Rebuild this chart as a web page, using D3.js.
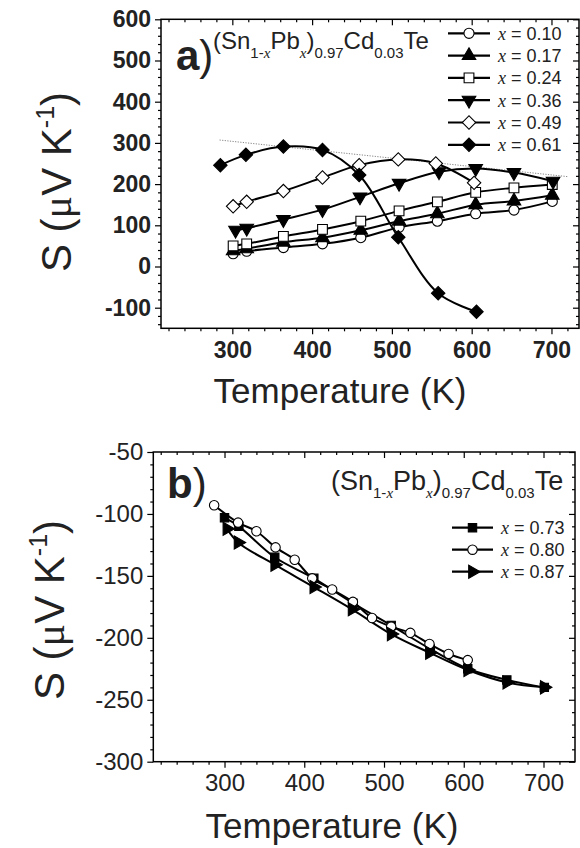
<!DOCTYPE html>
<html>
<head>
<meta charset="utf-8">
<script src="https://cdn.jsdelivr.net/npm/d3@7"></script>
<style>
  body { margin: 0; background: #fff; }
  svg { display: block; }
</style>
</head>
<body>
<svg id="fig" width="580" height="848"></svg>
<script>
// ---- Tick values ----
const tempTicks = [300, 400, 500, 600, 700];
const seebeckTicksA = [-100, 0, 100, 200, 300, 400, 500, 600];
const seebeckTicksB = [-300, -250, -200, -150, -100, -50];

// ---- Panel a: (Sn1-xPbx)0.97Cd0.03Te, p-type range ----
const labelsA = ["0.10", "0.17", "0.24", "0.36", "0.49", "0.61"];
const tA010 = [301, 318, 364, 413, 461, 509, 557, 605, 653, 701];
const sA010 = [31, 37, 46, 55, 70, 95, 110, 128, 137, 158];
const tA017 = [301, 318, 364, 413, 461, 509, 557, 605, 653, 701];
const sA017 = [38, 43, 59, 70, 88, 110, 128, 150, 159, 173];
const tA024 = [301, 318, 364, 413, 461, 509, 557, 605, 653, 701];
const sA024 = [50, 55, 73, 90, 110, 135, 157, 180, 191, 199];
const tA036 = [304, 318, 364, 413, 460, 509, 559, 605, 653, 702];
const sA036 = [88, 93, 114, 138, 169, 202, 230, 238, 228, 207];
const tA049 = [301, 318, 364, 413, 459, 508, 555, 603];
const sA049 = [146, 157, 183, 216, 246, 260, 250, 203];
const tA061 = [285, 317, 364, 413, 459, 508, 558, 606];
const sA061 = [246, 271, 291, 283, 222, 71, -65, -110];
// dotted guide joining the maxima
const guideT = [284, 721];
const guideS = [307, 218];

// ---- Panel b: n-type range ----
const labelsB = ["0.73", "0.80", "0.87"];
const tB073 = [300, 318, 363, 412, 461, 509, 558, 605, 654, 701];
const sB073 = [-103, -110, -135, -152, -172, -190, -209, -225, -234, -240];
const tB080 = [287, 317, 340, 364, 388, 410, 435, 461, 485, 509, 533, 557, 581, 605];
const sB080 = [-93, -107, -114, -127, -137, -152, -161, -171, -184, -191, -196, -205, -213, -218];
const tB087 = [303, 317, 363, 412, 460, 509, 557, 605, 654, 701];
const sB087 = [-112, -123, -141, -159, -177, -197, -212, -226, -236, -240];

const SANS = "'Liberation Sans', Arial, sans-serif";
const SERIF = "'Liberation Serif', 'Times New Roman', serif";

const svg = d3.select("#fig");

const zip = (t, s) => t.map((v, i) => ({ t: v, s: s[i] }));
const plain = d => String(d); // hyphen-minus, as on the printed axes

// marker definitions: shape, fill, rotation, area
const MK = {
  circle:   { type: d3.symbolCircle,   fill: "#fff", rot: 0,   size: 80 },
  square:   { type: d3.symbolSquare,   fill: "#fff", rot: 0,   size: 95 },
  triUp:    { type: d3.symbolTriangle, fill: "#000", rot: 0,   size: 80 },
  triDown:  { type: d3.symbolTriangle, fill: "#000", rot: 180, size: 80 },
  diaOpen:  { type: d3.symbolSquare,   fill: "#fff", rot: 45,  size: 90 },
  diaFill:  { type: d3.symbolSquare,   fill: "#000", rot: 45,  size: 90 }
};
const MKB = {
  square:   { type: d3.symbolSquare,   fill: "#000", rot: 0,  size: 70 },
  circle:   { type: d3.symbolCircle,   fill: "#fff", rot: 0,  size: 70 },
  triRight: { type: d3.symbolTriangle, fill: "#000", rot: 90, size: 75 }
};

function drawMarker(g, m, x, y) {
  g.append("path")
    .attr("d", d3.symbol().type(m.type).size(m.size)())
    .attr("transform", `translate(${x},${y}) rotate(${m.rot})`)
    .attr("fill", m.fill)
    .attr("stroke", "#000")
    .attr("stroke-width", 1.1);
}

function frame(g, x, y, opts) {
  const [x0, x1] = x.range();
  const [y0, y1] = y.range(); // y0 bottom, y1 top
  const majX = tempTicks;
  const minX = d3.range(220, 740, 20).filter(v => v % 100 !== 0 && v >= x.domain()[0] && v <= x.domain()[1]);
  const majY = opts.yTicks;
  const minY = opts.yMinor;

  const style = sel => {
    sel.select(".domain").remove();
    sel.selectAll("line").attr("stroke", "#000").attr("stroke-width", 1.2);
    sel.selectAll("text")
      .attr("font-family", SANS)
      .attr("font-size", opts.tickFont)
      .attr("font-weight", opts.bold ? "bold" : "normal")
      .attr("fill", "#222");
  };

  // bottom (outward) and top (inward)
  g.append("g").attr("transform", `translate(0,${y0})`)
    .call(d3.axisBottom(x).tickValues(majX).tickSize(6).tickPadding(opts.xPad).tickFormat(plain))
    .call(style);
  g.append("g").attr("transform", `translate(0,${y0})`)
    .call(d3.axisBottom(x).tickValues(minX).tickSize(3).tickFormat(""))
    .call(style);
  g.append("g").attr("transform", `translate(0,${y1})`)
    .call(d3.axisBottom(x).tickValues(majX).tickSize(6).tickFormat(""))
    .call(style);
  g.append("g").attr("transform", `translate(0,${y1})`)
    .call(d3.axisBottom(x).tickValues(minX).tickSize(3).tickFormat(""))
    .call(style);
  // left (outward) and right (inward)
  g.append("g").attr("transform", `translate(${x0},0)`)
    .call(d3.axisLeft(y).tickValues(majY).tickSize(6).tickPadding(opts.yPad).tickFormat(plain))
    .call(style);
  g.append("g").attr("transform", `translate(${x0},0)`)
    .call(d3.axisLeft(y).tickValues(minY).tickSize(3).tickFormat(""))
    .call(style);
  g.append("g").attr("transform", `translate(${x1},0)`)
    .call(d3.axisLeft(y).tickValues(majY).tickSize(6).tickFormat(""))
    .call(style);
  g.append("g").attr("transform", `translate(${x1},0)`)
    .call(d3.axisLeft(y).tickValues(minY).tickSize(3).tickFormat(""))
    .call(style);

  g.append("rect")
    .attr("x", x0).attr("y", y1)
    .attr("width", x1 - x0).attr("height", y0 - y1)
    .attr("fill", "none").attr("stroke", "#000").attr("stroke-width", 1.5);
}

function yTitle(g, cx, cy) {
  const t = g.append("text")
    .attr("transform", `translate(${cx},${cy}) rotate(-90)`)
    .attr("text-anchor", "middle")
    .attr("font-family", SANS)
    .attr("font-size", 42)
    .attr("fill", "#222");
  t.append("tspan").text("S (");
  t.append("tspan").attr("font-family", SERIF).text("μ");
  t.append("tspan").text("V K");
  t.append("tspan").attr("font-size", 25).attr("dy", -17).text("-1");
  t.append("tspan").attr("dy", 17).text(")");
}

function xTitle(g, cx, baseline) {
  g.append("text")
    .attr("x", cx).attr("y", baseline)
    .attr("text-anchor", "middle")
    .attr("font-family", SANS)
    .attr("font-size", 35)
    .attr("fill", "#222")
    .text("Temperature (K)");
}

function formula(g, x, y, size, sub, drop) {
  const t = g.append("text")
    .attr("x", x).attr("y", y)
    .attr("font-family", SANS)
    .attr("font-size", size)
    .attr("fill", "#222");
  const S = (txt, opt = {}) => {
    const s = t.append("tspan").text(txt);
    if (opt.sub) s.attr("font-size", sub);
    if (opt.dy) s.attr("dy", opt.dy);
    if (opt.it) s.attr("font-family", SERIF).attr("font-style", "italic");
    return s;
  };
  S("(Sn");
  S("1-", { sub: true, dy: drop });
  S("x", { sub: true, it: true });
  S("Pb", { dy: -drop });
  S("x", { sub: true, it: true, dy: drop });
  S(")", { dy: -drop });
  S("0.97", { sub: true, dy: drop });
  S("Cd", { dy: -drop });
  S("0.03", { sub: true, dy: drop });
  S("Te", { dy: -drop });
}

function legendRow(g, m, x0, x1, cy, label, fsize) {
  g.append("line")
    .attr("x1", x0).attr("x2", x1).attr("y1", cy).attr("y2", cy)
    .attr("stroke", "#000").attr("stroke-width", 2.2);
  drawMarker(g, m, (x0 + x1) / 2, cy);
  const t = g.append("text")
    .attr("x", x1 + 8).attr("y", cy + 6.5)
    .attr("font-family", SANS).attr("font-size", fsize).attr("fill", "#222");
  t.append("tspan").attr("font-family", SERIF).attr("font-style", "italic").text("x");
  t.append("tspan").text(" = " + label);
}

const curve = d3.curveCatmullRom.alpha(0.5);

// ================= Panel a =================
{
  const g = svg.append("g");
  const x = d3.scaleLinear().domain([210.6, 734.5]).range([161, 579]);
  const y = d3.scaleLinear().domain([-150, 600]).range([328.3, 19.3]);

  frame(g, x, y, {
    yTicks: seebeckTicksA,
    yMinor: d3.range(-140, 600, 20).filter(v => v % 100 !== 0),
    tickFont: 23, bold: true, xPad: 7, yPad: 4
  });

  // dotted guide line
  g.append("line")
    .attr("x1", x(guideT[0])).attr("y1", y(guideS[0]))
    .attr("x2", x(guideT[1])).attr("y2", y(guideS[1]))
    .attr("stroke", "#777").attr("stroke-width", 0.9)
    .attr("stroke-dasharray", "1.2,1.4");

  const series = [
    { d: zip(tA010, sA010), m: MK.circle },
    { d: zip(tA017, sA017), m: MK.triUp },
    { d: zip(tA024, sA024), m: MK.square },
    { d: zip(tA036, sA036), m: MK.triDown },
    { d: zip(tA049, sA049), m: MK.diaOpen },
    { d: zip(tA061, sA061), m: MK.diaFill }
  ];
  const line = d3.line().x(p => x(p.t)).y(p => y(p.s)).curve(curve);
  series.forEach(s => {
    g.append("path").attr("d", line(s.d))
      .attr("fill", "none").attr("stroke", "#000").attr("stroke-width", 2);
  });
  series.forEach(s => {
    s.d.forEach(p => drawMarker(g, s.m, x(p.t), y(p.s)));
  });

  // panel label and composition
  const lab = g.append("text").attr("x", 176).attr("y", 70)
    .attr("font-family", SANS).attr("font-size", 42).attr("fill", "#222");
  lab.append("tspan").attr("font-weight", "bold").text("a");
  lab.append("tspan").text(")");
  formula(g, 213, 49, 24, 15, 9);

  // legend
  series.forEach((s, i) => legendRow(g, s.m, 448, 490, 33.3 + i * 22.3, labelsA[i], 18));

  yTitle(g, 71, 182);
  xTitle(g, 340, 403);
}

// ================= Panel b =================
{
  const g = svg.append("g");
  const x = d3.scaleLinear().domain([210.7, 739.5]).range([153.3, 575]);
  const y = d3.scaleLinear().domain([-300, -50]).range([761.7, 452]);

  frame(g, x, y, {
    yTicks: seebeckTicksB,
    yMinor: d3.range(-290, -50, 10).filter(v => v % 50 !== 0),
    tickFont: 24, bold: false, xPad: 6, yPad: 4
  });

  const series = [
    { d: zip(tB073, sB073), m: MKB.square },
    { d: zip(tB080, sB080), m: MKB.circle },
    { d: zip(tB087, sB087), m: MKB.triRight }
  ];
  const line = d3.line().x(p => x(p.t)).y(p => y(p.s)).curve(curve);
  series.forEach(s => {
    g.append("path").attr("d", line(s.d))
      .attr("fill", "none").attr("stroke", "#000").attr("stroke-width", 2);
  });
  series.forEach(s => {
    s.d.forEach(p => drawMarker(g, s.m, x(p.t), y(p.s)));
  });

  const lab = g.append("text").attr("x", 167).attr("y", 498)
    .attr("font-family", SANS).attr("font-size", 42).attr("fill", "#222");
  lab.append("tspan").attr("font-weight", "bold").text("b");
  lab.append("tspan").text(")");
  formula(g, 331, 490, 27, 15, 8);

  series.forEach((s, i) => legendRow(g, s.m, 452, 493, 527.7 + i * 22, labelsB[i], 18));

  yTitle(g, 64, 610);
  xTitle(g, 332, 838);
}
</script>
</body>
</html>
